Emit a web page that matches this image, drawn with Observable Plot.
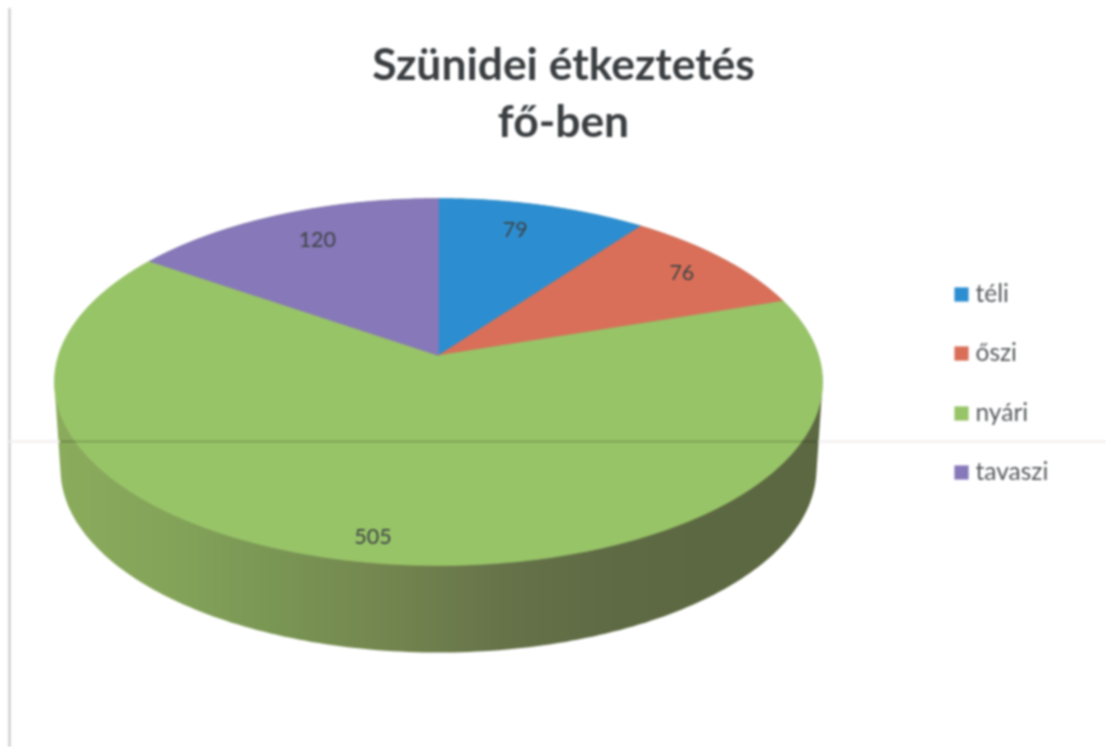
<!DOCTYPE html>
<html><head><meta charset="utf-8">
<style>html,body{margin:0;padding:0;background:#fff}svg{display:block}</style>
<script src="https://cdn.jsdelivr.net/npm/d3@7"></script>
<script src="https://cdn.jsdelivr.net/npm/@observablehq/plot@0.6"></script>
</head><body><div id="chart"></div>
<script>
// Data
const categories = ["téli", "őszi", "nyári", "tavaszi"];
const values = [79, 76, 505, 120];
const titleLines = ["Szünidei étkeztetés", "fő-ben"];

// Styles and layout, separate from the data
const sliceColors = ["#2c8ed1", "#d96f59", "#98c468", "#8778b9"];
const sideStops = ["#8bab5c", "#84a45a", "#7a9654", "#74864f", "#67744a", "#5f6b44", "#5c6842", "#5c6842"];
const labelRadius = [0.82, 0.83, 0.89, 0.8];
const labelShift = [-11, 5, -11, 7];
const legendY = [294, 353, 413, 472];
const W = 1106, H = 747;

// Perspective projection of the unit disc onto the page
const cx = 438, apexY = 355, k = 0.1444, topA = 380, bottomA = 374, B = 179.7, depth = 87;
const project = (theta, r = 1, a = topA, off = 0) => {
  const u = r * Math.sin(theta), v = r * Math.cos(theta), w = 1 + k * v;
  return [cx + a * u / w, apexY + off - B * v / w];
};

const total = d3.sum(values);
let acc = 0;
const slices = categories.map((name, i) => {
  const start = acc / total * 2 * Math.PI;
  acc += values[i];
  return {name, value: values[i], color: sliceColors[i], i, start, end: acc / total * 2 * Math.PI};
});

// Top-face polygons
const topRows = slices.flatMap(s => {
  const n = Math.ceil((s.end - s.start) / (Math.PI / 180));
  const pts = [[cx, apexY], ...d3.range(n + 1).map(j => project(s.start + (s.end - s.start) * j / n)), [cx, apexY]];
  return pts.map(([x, y]) => ({x, y, id: s.name, color: s.color}));
});

// Side wall: the outline around the top rim and the bottom rim of the disc
const sweep = d3.range(0, 2 * Math.PI, Math.PI / 180);
const sideRows = d3.polygonHull([
  ...sweep.map(t => project(t)),
  ...sweep.map(t => project(t, 1, bottomA, depth))
]).map(([x, y]) => ({x, y}));

const labels = slices.map(s => {
  const [x, y] = project((s.start + s.end) / 2, labelRadius[s.i]);
  return {x: x + labelShift[s.i], y, text: String(s.value)};
});

const sideGradient = () => {
  const ns = "http://www.w3.org/2000/svg";
  const defs = document.createElementNS(ns, "defs");
  const g = document.createElementNS(ns, "linearGradient");
  g.setAttribute("id", "sideGrad");
  g.setAttribute("gradientUnits", "userSpaceOnUse");
  g.setAttribute("x1", 54); g.setAttribute("x2", 822);
  g.setAttribute("y1", 0); g.setAttribute("y2", 0);
  sideStops.forEach((c, i) => {
    const st = document.createElementNS(ns, "stop");
    st.setAttribute("offset", i / (sideStops.length - 1));
    st.setAttribute("stop-color", c);
    g.append(st);
  });
  defs.append(g);
  return defs;
};

const font = "Lato, 'Open Sans', sans-serif";
const plot = Plot.plot({
  width: W, height: H, margin: 0,
  x: {domain: [0, W], range: [0, W], axis: null},
  y: {domain: [0, H], range: [0, H], axis: null},
  color: {type: "identity"},
  style: {background: "#fff", filter: "blur(0.9px)"},
  marks: [
    sideGradient,
    Plot.line(sideRows, {x: "x", y: "y", fill: "url(#sideGrad)", stroke: "none", curve: "linear"}),
    Plot.line(topRows, {x: "x", y: "y", z: "id", fill: "color", stroke: "color", strokeWidth: 0.6, curve: "linear"}),
    Plot.text(labels, {x: "x", y: "y", text: "text", fontSize: 21.5, fontFamily: font, fill: "#3d4345"}),
    Plot.text(titleLines, {x: () => 563, y: (d, i) => [65, 122][i], text: d => d, fontSize: 44.4, fontWeight: 700, fontFamily: font, fill: "#3b3f42"}),
    Plot.dot(categories, {x: () => 961, y: (d, i) => legendY[i], symbol: "square", r: 8, fill: (d, i) => sliceColors[i], stroke: null}),
    Plot.text(categories, {x: () => 975, y: (d, i) => legendY[i], text: d => d, textAnchor: "start", fontSize: 24.5, fontFamily: font, fill: "#55595c"}),
    Plot.ruleX([9], {y1: 8, y2: H, stroke: "#c4c4c4", strokeWidth: 2}),
    Plot.ruleY([441], {x1: 9, x2: 60, stroke: "#efeeec", strokeWidth: 2}),
    Plot.ruleY([441], {x1: 818, x2: W, stroke: "#efeeec", strokeWidth: 2}),
    Plot.ruleY([441], {x1: 60, x2: 818, stroke: "#d4d4cc", strokeWidth: 2, mixBlendMode: "multiply"})
  ]
});
document.getElementById("chart").append(plot);
</script></body></html>
